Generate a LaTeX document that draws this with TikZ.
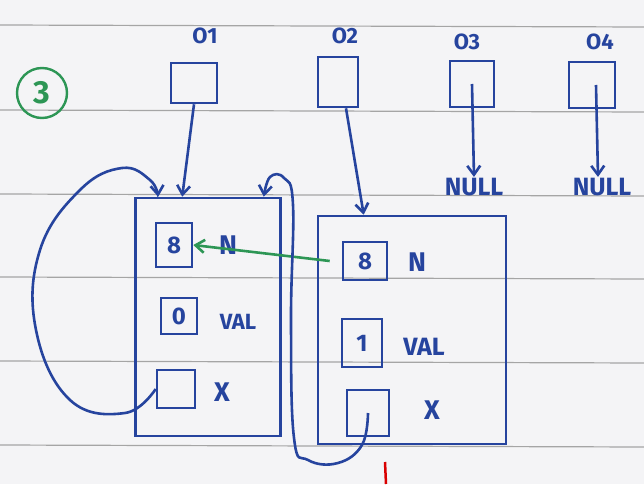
\documentclass[tikz,border=0pt]{standalone}
\usepackage{fontspec}
\setmainfont{Fira Sans}
\usetikzlibrary{arrows.meta}
\definecolor{ink}{RGB}{38,68,158}
\definecolor{gink}{RGB}{45,150,85}
\definecolor{ruleline}{RGB}{165,165,165}
\definecolor{paper}{RGB}{244,244,246}
\begin{document}
\begin{tikzpicture}[x=1pt,y=-1pt,
  inkline/.style={draw=ink,line width=2.6pt},
  ptrbox/.style={inkline,rectangle,inner sep=0pt},
  bigbox/.style={inkline,rectangle,inner sep=0pt},
  cellbox/.style={inkline,rectangle,inner sep=0pt,text=ink,font=\fontsize{24}{24}\selectfont\bfseries},
  lbl/.style={text=ink,inner sep=1pt,font=\fontsize{22}{22}\selectfont\bfseries},
  biglbl/.style={lbl,font=\fontsize{27}{27}\selectfont\bfseries},
  arr/.style={inkline,-{Straight Barb[length=9pt,width=13pt,line width=2.6pt]}},
  garr/.style={draw=gink,line width=2.6pt,-{Straight Barb[length=9pt,width=13pt,line width=2.6pt]}}]
\fill[paper] (0,0) rectangle (644,484);
\useasboundingbox (0,0) rectangle (644,484);
% ruled lines
\foreach \y in {25,110,194,277,361,445}
  \draw[ruleline,line width=1.2pt] (0,\y) -- (644,\y+2);
% green mark
\node[circle,draw=gink,line width=2.4pt,minimum size=50pt,inner sep=0pt,text=gink,font=\fontsize{32}{32}\selectfont\bfseries] (three) at (42,93) {3};
% pointer variables
\node[ptrbox,minimum width=46pt,minimum height=40pt] (p1) at (194,83) {};
\node[ptrbox,minimum width=40pt,minimum height=50pt] (p2) at (338,82) {};
\node[ptrbox,minimum width=44pt,minimum height=46pt] (p3) at (472,84) {};
\node[ptrbox,minimum width=46pt,minimum height=46pt] (p4) at (592,85) {};
\node[lbl] (l1) at (205,36) {O1};
\node[lbl] (l2) at (345,36) {O2};
\node[lbl] (l3) at (467,42) {O3};
\node[lbl] (l4) at (600,42) {O4};
\node[lbl,font=\fontsize{25}{25}\selectfont\bfseries] (n3) at (474,187) {NULL};
\node[lbl,font=\fontsize{25}{25}\selectfont\bfseries] (n4) at (602,187) {NULL};
% objects
\node[bigbox,minimum width=145pt,minimum height=238pt] (A) at (208,317) {};
\node[bigbox,minimum width=188pt,minimum height=228pt] (B) at (412,330) {};
\node[cellbox,minimum width=36pt,minimum height=44pt] (a8) at (174,245) {8};
\node[biglbl] (aN) at (228,245) {N};
\node[cellbox,minimum width=36pt,minimum height=36pt] (a0) at (179,316) {0};
\node[lbl] (aV) at (238,322) {VAL};
\node[cellbox,minimum width=38pt,minimum height=38pt] (ax) at (176,389) {};
\node[biglbl] (aX) at (222,392) {X};
\node[cellbox,minimum width=44pt,minimum height=38pt] (b8) at (365,261) {8};
\node[biglbl] (bN) at (417,262) {N};
\node[cellbox,minimum width=40pt,minimum height=48pt] (b1) at (362,343) {1};
\node[lbl,font=\fontsize{25}{25}\selectfont\bfseries] (bV) at (424,347) {VAL};
\node[cellbox,minimum width=42pt,minimum height=46pt] (bx) at (368,413) {};
\node[biglbl] (bX) at (432,410) {X};
% pointer arrows
\draw[arr] (p1.south) -- ([xshift=48pt]A.north west);
\draw[arr] ([xshift=8pt]p2.south) -- ([xshift=47pt]B.north west);
\draw[arr] (p3.center) -- (n3.north);
\draw[arr] ([xshift=4pt]p4.center) -- ([xshift=-4pt]n4.north);
% green reference
\draw[garr] ([xshift=-12pt]b8.west) -- (a8.east);
% self reference of O1's object
\draw[arr] plot[smooth,tension=0.7] coordinates {(ax.west) (125,413) (70,400) (36,330) (40,250) (80,190) (122,168) (150,180) ([xshift=24pt]A.north west)};
% X of O2's object -> O1's object
\draw[arr] plot[smooth,tension=0.7] coordinates {(bx.center) (362,445) (338,463) (308,460) (294,438) (291,320) (293,205) (284,178) (270,177) ([xshift=-18pt]A.north east)};
% red mark
\draw[red!85!black,line width=2.5pt] (385,462) -- (386,484);
\end{tikzpicture}
\end{document}
